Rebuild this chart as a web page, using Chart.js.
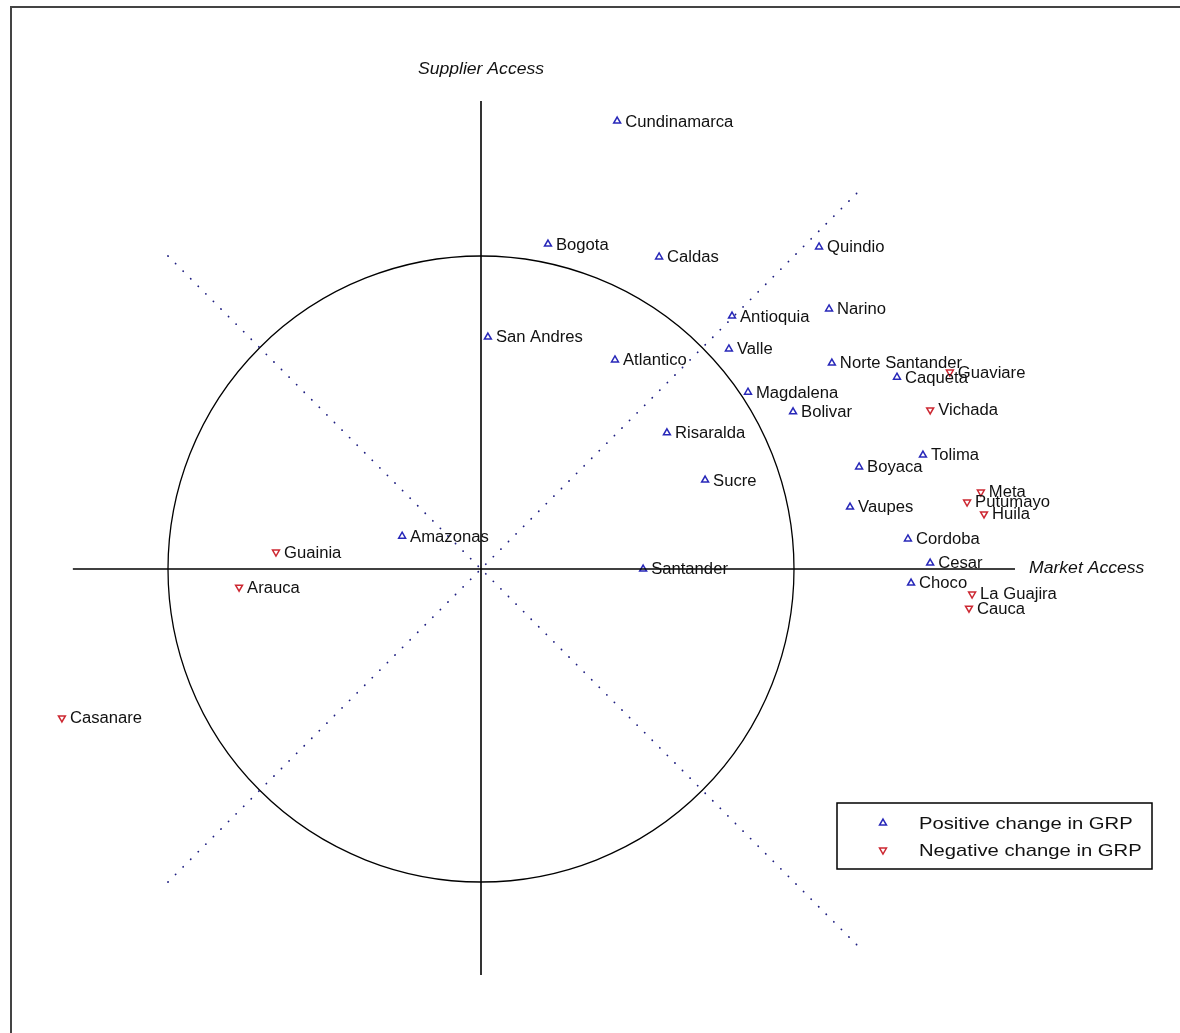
<!DOCTYPE html>
<html>
<head>
<meta charset="utf-8">
<script src="https://cdn.jsdelivr.net/npm/chart.js@4.4.1/dist/chart.umd.min.js"></script>
<style>
    body { margin: 0; background: #fff; }
    canvas { display: block; }
</style>
</head>
<body>
<canvas id="accessChart" width="1180" height="1033"></canvas>
<script>
// departments whose GRP went up
const posNames = ['Cundinamarca', 'Bogota', 'Caldas', 'Quindio', 'Antioquia', 'Narino', 'San Andres',
    'Atlantico', 'Valle', 'Norte Santander', 'Caqueta', 'Magdalena', 'Bolivar', 'Risaralda', 'Tolima',
    'Boyaca', 'Sucre', 'Vaupes', 'Amazonas', 'Cordoba', 'Santander', 'Cesar', 'Choco'];
const posMarket = [0.435, 0.214, 0.569, 1.080, 0.802, 1.112, 0.022,
    0.428, 0.792, 1.121, 1.329, 0.853, 0.997, 0.594, 1.412,
    1.208, 0.716, 1.179, -0.252, 1.364, 0.518, 1.435, 1.374];
const posSupplier = [1.431, 1.038, 0.997, 1.029, 0.808, 0.831, 0.741,
    0.668, 0.703, 0.658, 0.613, 0.565, 0.502, 0.435, 0.364,
    0.326, 0.284, 0.198, 0.105, 0.096, 0.000, 0.019, -0.045];

// departments whose GRP went down
const negNames = ['Guaviare', 'Vichada', 'Meta', 'Putumayo', 'Huila', 'Guainia', 'Arauca',
    'La Guajira', 'Cauca', 'Casanare'];
const negMarket = [1.498, 1.435, 1.597, 1.553, 1.607, -0.655, -0.773, 1.569, 1.559, -1.339];
const negSupplier = [0.629, 0.508, 0.246, 0.214, 0.176, 0.054, -0.058, -0.080, -0.125, -0.476];

// axes and reference lines
const marketAxis = [{ x: -1.304, y: 0 }, { x: 1.706, y: 0 }];
const supplierAxis = [{ x: 0, y: -1.297 }, { x: 0, y: 1.495 }];
const diagFalling = [{ x: -1, y: 1 }, { x: 1.2, y: -1.2 }];
const diagRising = [{ x: -1, y: -1 }, { x: 1.2, y: 1.2 }];
const circleRadius = 1;

const blue = 'rgb(40,40,185)';
const red = 'rgb(205,40,50)';
const labelFont = '16px "Liberation Sans", Arial, sans-serif';
const labelStretch = 1.04;

const toPoints = (xs, ys) => xs.map((x, i) => ({ x: x, y: ys[i] }));

function lineSet(data, color, width, dash) {
    return {
        data: data,
        showLine: true,
        borderColor: color,
        borderWidth: width,
        borderDash: dash || [],
        borderCapStyle: dash ? 'round' : 'butt',
        pointRadius: 0,
        fill: false
    };
}

function stretchedText(ctx, text, x, y, sx) {
    ctx.save();
    ctx.translate(x, y);
    ctx.scale(sx, 1);
    ctx.fillText(text, 0, 0);
    ctx.restore();
}

// white page with the frame round it
const framePlugin = {
    id: 'frame',
    beforeDraw(chart) {
        const ctx = chart.ctx;
        ctx.save();
        ctx.fillStyle = '#fff';
        ctx.fillRect(0, 0, chart.width, chart.height);
        ctx.strokeStyle = '#444';
        ctx.lineWidth = 2;
        ctx.strokeRect(11, 7, chart.width, chart.height);
        ctx.restore();
    }
};

// unit circle round the origin
const circlePlugin = {
    id: 'unitCircle',
    beforeDatasetsDraw(chart) {
        const xs = chart.scales.x, ys = chart.scales.y;
        const cx = xs.getPixelForValue(0), cy = ys.getPixelForValue(0);
        const r = xs.getPixelForValue(circleRadius) - cx;
        const ctx = chart.ctx;
        ctx.save();
        ctx.strokeStyle = '#000';
        ctx.lineWidth = 1.3;
        ctx.beginPath();
        ctx.arc(cx, cy, r, 0, Math.PI * 2);
        ctx.stroke();
        ctx.restore();
    }
};

// department names next to their markers
const namePlugin = {
    id: 'names',
    afterDatasetsDraw(chart) {
        const ctx = chart.ctx;
        ctx.save();
        ctx.font = labelFont;
        ctx.fillStyle = '#111';
        ctx.textBaseline = 'middle';
        chart.data.datasets.forEach((ds, i) => {
            if (!ds.names) return;
            chart.getDatasetMeta(i).data.forEach((pt, j) => {
                stretchedText(ctx, ds.names[j], pt.x + 8, pt.y + 1, labelStretch);
            });
        });
        ctx.restore();
    }
};

// axis titles and the boxed legend
const titlePlugin = {
    id: 'titles',
    afterDraw(chart) {
        const xs = chart.scales.x, ys = chart.scales.y;
        const ctx = chart.ctx;
        ctx.save();
        ctx.fillStyle = '#111';
        ctx.font = 'italic 16px "Liberation Sans", Arial, sans-serif';
        ctx.textBaseline = 'middle';
        const top = ys.getPixelForValue(supplierAxis[1].y);
        const axisX = xs.getPixelForValue(0);
        const w = ctx.measureText('Supplier Access').width * 1.1;
        stretchedText(ctx, 'Supplier Access', axisX - w / 2, top - 32, 1.1);
        stretchedText(ctx, 'Market Access', xs.getPixelForValue(marketAxis[1].x) + 14,
            ys.getPixelForValue(0), 1.1);

        // legend
        const box = { left: 837, top: 803, width: 315, height: 66 };
        ctx.strokeStyle = '#000';
        ctx.lineWidth = 1.5;
        ctx.strokeRect(box.left, box.top, box.width, box.height);
        ctx.font = '17px "Liberation Sans", Arial, sans-serif';
        const entries = chart.data.datasets.filter(ds => ds.names);
        entries.forEach((ds, k) => {
            const y = box.top + 20 + k * 27;
            ctx.fillStyle = 'rgba(0,0,0,0)';
            ctx.strokeStyle = ds.borderColor;
            ctx.lineWidth = ds.borderWidth;
            Chart.helpers.drawPoint(ctx, {
                pointStyle: 'triangle', radius: 4, rotation: ds.pointRotation, borderWidth: ds.borderWidth
            }, box.left + 46, y);
            ctx.fillStyle = '#111';
            stretchedText(ctx, ds.label, box.left + 82, y + 1, 1.19);
        });
        ctx.restore();
    }
};

new Chart(document.getElementById('accessChart'), {
    type: 'scatter',
    data: {
        datasets: [
            lineSet(marketAxis, '#000', 1.6),
            lineSet(supplierAxis, '#000', 1.6),
            lineSet(diagFalling, '#1e1e80', 1.8, [0.1, 10.6]),
            lineSet(diagRising, '#1e1e80', 1.8, [0.1, 10.6]),
            {
                label: 'Positive change in GRP',
                names: posNames,
                data: toPoints(posMarket, posSupplier),
                pointStyle: 'triangle',
                pointRadius: 4,
                pointRotation: 0,
                backgroundColor: 'rgba(0,0,0,0)',
                borderColor: blue,
                borderWidth: 1.5
            },
            {
                label: 'Negative change in GRP',
                names: negNames,
                data: toPoints(negMarket, negSupplier),
                pointStyle: 'triangle',
                pointRadius: 4,
                pointRotation: 180,
                backgroundColor: 'rgba(0,0,0,0)',
                borderColor: red,
                borderWidth: 1.5
            }
        ]
    },
    options: {
        responsive: false,
        animation: false,
        layout: { padding: 0, autoPadding: false },
        plugins: {
            legend: { display: false },
            tooltip: { enabled: false }
        },
        scales: {
            x: { type: 'linear', display: false, min: -481 / 313, max: (1180 - 481) / 313 },
            y: { type: 'linear', display: false, min: -(1033 - 569) / 313, max: 569 / 313 }
        }
    },
    plugins: [framePlugin, circlePlugin, namePlugin, titlePlugin]
});
</script>
</body>
</html>
